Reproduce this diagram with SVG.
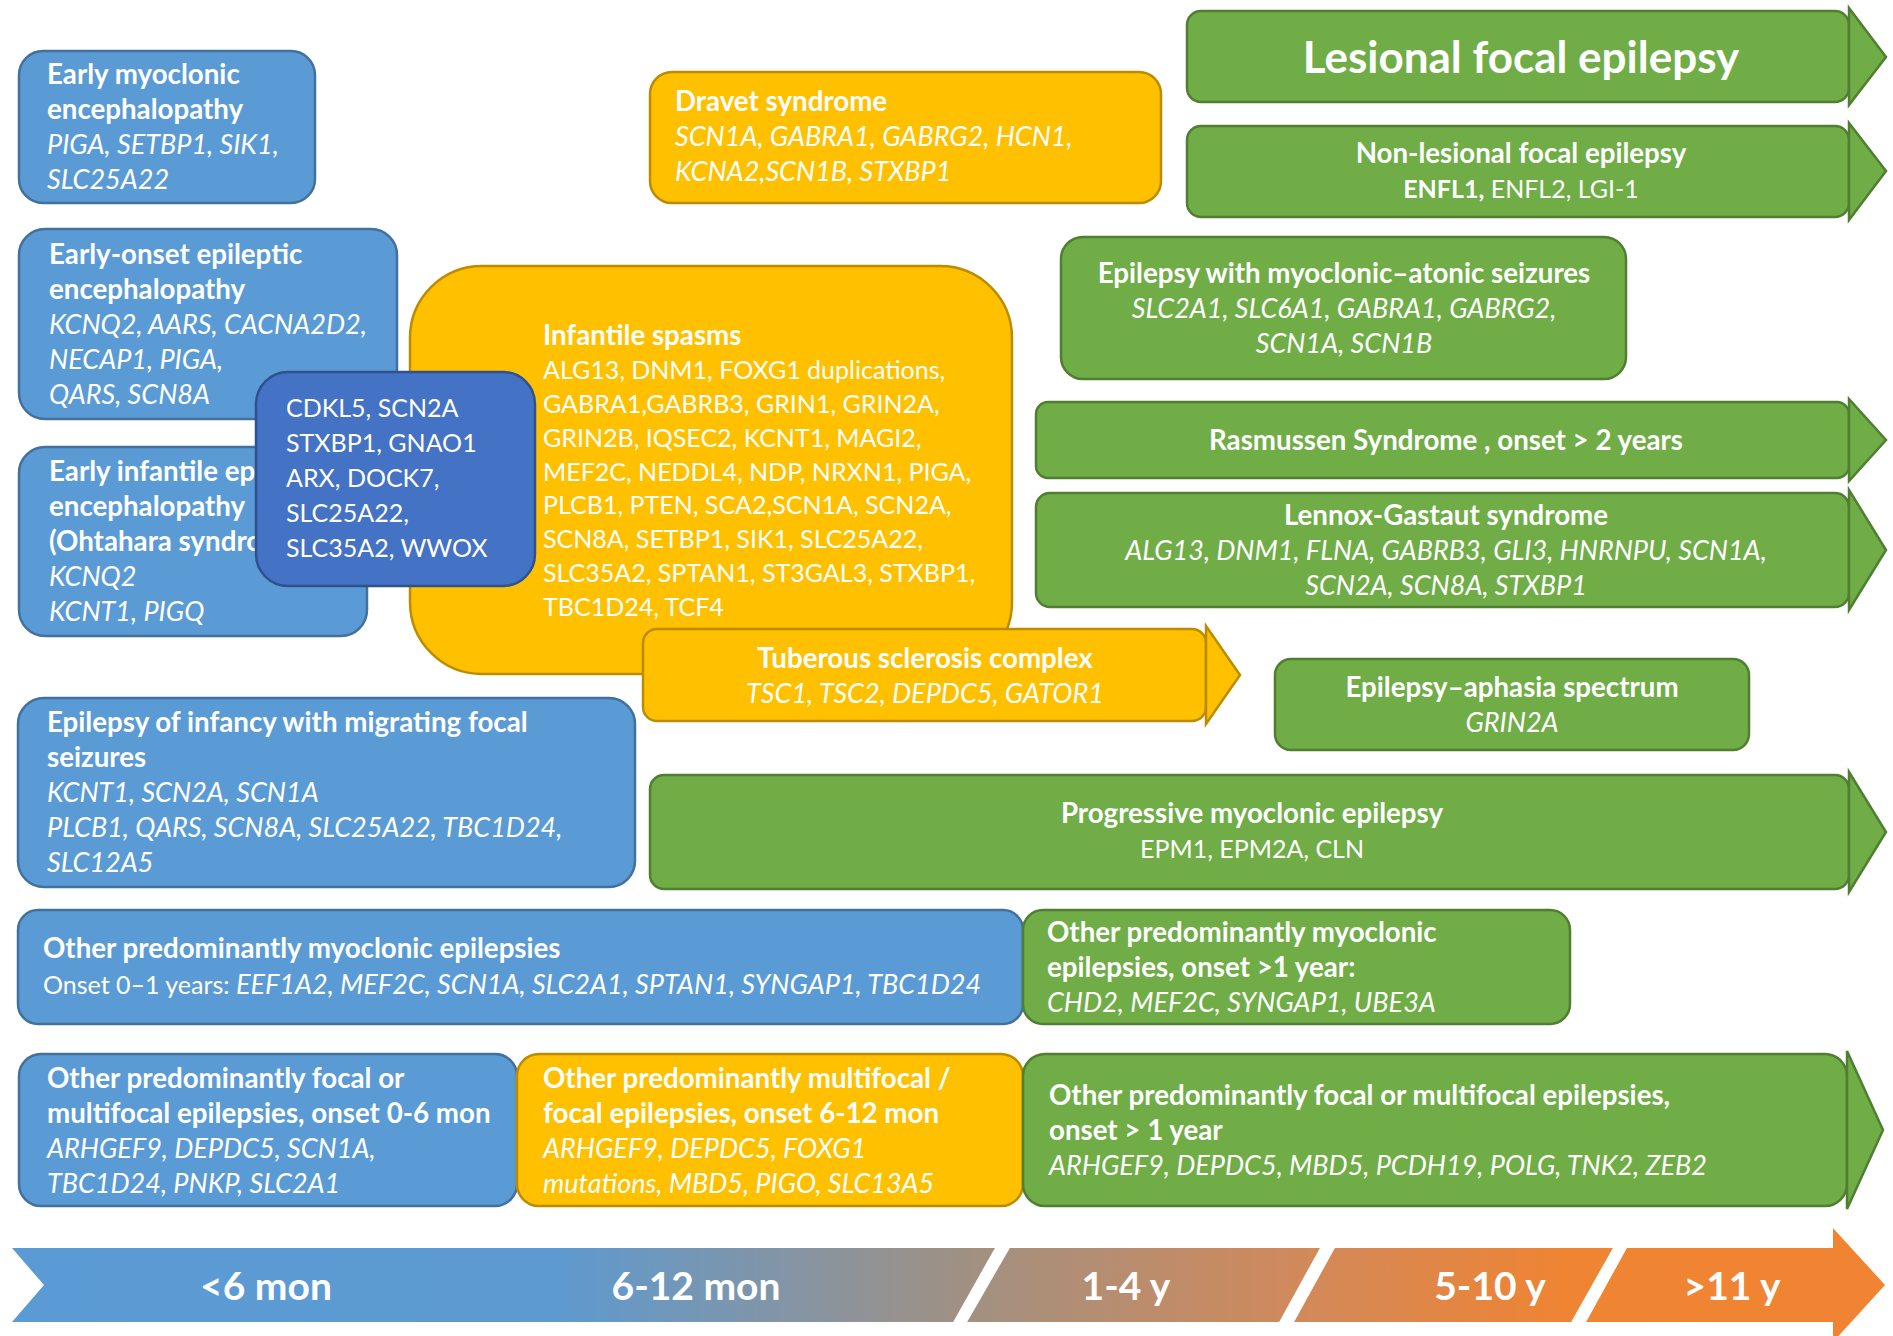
<svg xmlns="http://www.w3.org/2000/svg" width="1893" height="1336" viewBox="0 0 1893 1336">
<defs>
<style>
.blue{fill:#5B9BD5;stroke:#41719C;stroke-width:2.5}
.yel{fill:#FFC000;stroke:#BC8C00;stroke-width:2.5}
.grn{fill:#70AD47;stroke:#507E32;stroke-width:2.5}
.dk{fill:#4472C4;stroke:#2F528F;stroke-width:2.5}
text{font-family:Lato,"Open Sans","Liberation Sans",sans-serif;fill:#fff;font-size:25px}
.b{font-weight:700;font-size:27.7px}
.i{font-style:italic;font-size:27px}
.c{text-anchor:middle}
.big{font-weight:700;font-size:44px}
.tl{font-weight:700;font-size:39px;text-anchor:middle}
</style>
<linearGradient id="tlg" gradientUnits="userSpaceOnUse" x1="10" y1="0" x2="1885" y2="0">
<stop offset="0" stop-color="#5B9BD5"/>
<stop offset="0.29" stop-color="#5D9AD1"/>
<stop offset="0.52" stop-color="#A4907F"/>
<stop offset="0.69" stop-color="#D2895A"/>
<stop offset="0.83" stop-color="#EF8433"/>
<stop offset="1" stop-color="#F08432"/>
</linearGradient>
</defs>

<g id="early-myoclonic">
<rect class="blue" x="19" y="51" width="296" height="152" rx="24"/>
<text x="47" y="84" class="b">Early myoclonic</text>
<text x="47" y="119" class="b">encephalopathy</text>
<text x="47" y="154" class="i">PIGA, SETBP1, SIK1,</text>
<text x="47" y="189" class="i">SLC25A22</text>
</g>

<g id="early-onset">
<rect class="blue" x="19" y="229" width="378" height="190" rx="26"/>
<text x="49" y="264" class="b">Early-onset epileptic</text>
<text x="49" y="299" class="b">encephalopathy</text>
<text x="49" y="334" class="i">KCNQ2, AARS, CACNA2D2,</text>
<text x="49" y="369" class="i">NECAP1, PIGA,</text>
<text x="49" y="404" class="i">QARS, SCN8A</text>
</g>

<g id="early-infantile">
<rect class="blue" x="19" y="447" width="348" height="189" rx="26"/>
<text x="49" y="481" class="b">Early infantile ep</text>
<text x="49" y="516" class="b">encephalopathy</text>
<text x="49" y="551" class="b">(Ohtahara syndro</text>
<text x="49" y="586" class="i">KCNQ2</text>
<text x="49" y="621" class="i">KCNT1, PIGQ</text>
</g>

<g id="infantile-spasms">
<rect class="yel" x="410" y="266" width="602" height="408" rx="72"/>
<text x="543" y="345" class="b">Infantile spasms</text>
<text x="543" y="379">ALG13, DNM1, FOXG1 duplications,</text>
<text x="543" y="413">GABRA1,GABRB3, GRIN1, GRIN2A,</text>
<text x="543" y="447">GRIN2B, IQSEC2, KCNT1, MAGI2,</text>
<text x="543" y="481">MEF2C, NEDDL4, NDP, NRXN1, PIGA,</text>
<text x="543" y="514">PLCB1, PTEN, SCA2,SCN1A, SCN2A,</text>
<text x="543" y="548">SCN8A, SETBP1, SIK1, SLC25A22,</text>
<text x="543" y="582">SLC35A2, SPTAN1, ST3GAL3, STXBP1,</text>
<text x="543" y="616">TBC1D24, TCF4</text>
</g>

<g id="shared-genes">
<rect class="dk" x="256" y="372" width="279" height="214" rx="32"/>
<text x="286" y="417">CDKL5, SCN2A</text>
<text x="286" y="452">STXBP1, GNAO1</text>
<text x="286" y="487">ARX, DOCK7,</text>
<text x="286" y="522">SLC25A22,</text>
<text x="286" y="557">SLC35A2, WWOX</text>
</g>

<g id="dravet">
<rect class="yel" x="650" y="72" width="511" height="131" rx="22"/>
<text x="675" y="111" class="b">Dravet syndrome</text>
<text x="675" y="146" class="i">SCN1A, GABRA1, GABRG2, HCN1,</text>
<text x="675" y="181" class="i">KCNA2,SCN1B, STXBP1</text>
</g>

<g id="lesional">
<rect class="grn" x="1187" y="11" width="662" height="91" rx="14"/>
<polygon class="grn" points="1849,8 1886,57 1849,105"/>
<text x="1521" y="73" class="big c">Lesional focal epilepsy</text>
</g>

<g id="non-lesional">
<rect class="grn" x="1187" y="126" width="662" height="91" rx="14"/>
<polygon class="grn" points="1849,123 1886,171 1849,220"/>
<text x="1521" y="163" class="b c">Non-lesional focal epilepsy</text>
<text x="1521" y="198" class="c"><tspan font-weight="700">ENFL1,</tspan> ENFL2, LGI-1</text>
</g>

<g id="myoclonic-atonic">
<rect class="grn" x="1061" y="237" width="565" height="142" rx="22"/>
<text x="1344" y="283" class="b c">Epilepsy with myoclonic–atonic seizures</text>
<text x="1344" y="318" class="i c">SLC2A1, SLC6A1, GABRA1, GABRG2,</text>
<text x="1344" y="353" class="i c">SCN1A, SCN1B</text>
</g>

<g id="rasmussen">
<rect class="grn" x="1036" y="402" width="813" height="76" rx="12"/>
<polygon class="grn" points="1849,399 1886,440 1849,481"/>
<text x="1446" y="450" class="b c">Rasmussen Syndrome , onset &gt; 2 years</text>
</g>

<g id="lennox">
<rect class="grn" x="1036" y="493" width="813" height="114" rx="14"/>
<polygon class="grn" points="1849,490 1886,550 1849,610"/>
<text x="1446" y="525" class="b c">Lennox-Gastaut syndrome</text>
<text x="1446" y="560" class="i c">ALG13, DNM1, FLNA, GABRB3, GLI3, HNRNPU, SCN1A,</text>
<text x="1446" y="595" class="i c">SCN2A, SCN8A, STXBP1</text>
</g>

<g id="tuberous">
<rect class="yel" x="643" y="629" width="563" height="92" rx="14"/>
<polygon class="yel" points="1206,626 1240,675 1206,724"/>
<text x="925" y="668" class="b c">Tuberous sclerosis complex</text>
<text x="925" y="703" class="i c">TSC1, TSC2, DEPDC5, GATOR1</text>
</g>

<g id="aphasia">
<rect class="grn" x="1275" y="659" width="474" height="91" rx="16"/>
<text x="1512" y="697" class="b c">Epilepsy–aphasia spectrum</text>
<text x="1512" y="732" class="i c">GRIN2A</text>
</g>

<g id="migrating">
<rect class="blue" x="18" y="698" width="617" height="189" rx="26"/>
<text x="47" y="732" class="b">Epilepsy of infancy with migrating focal</text>
<text x="47" y="767" class="b">seizures</text>
<text x="47" y="802" class="i">KCNT1, SCN2A, SCN1A</text>
<text x="47" y="837" class="i">PLCB1, QARS, SCN8A, SLC25A22, TBC1D24,</text>
<text x="47" y="872" class="i">SLC12A5</text>
</g>

<g id="progressive">
<rect class="grn" x="650" y="775" width="1199" height="114" rx="14"/>
<polygon class="grn" points="1849,772 1886,832 1849,892"/>
<text x="1252" y="823" class="b c">Progressive myoclonic epilepsy</text>
<text x="1252" y="858" class="c">EPM1, EPM2A, CLN</text>
</g>

<g id="myoclonic-0-1">
<rect class="blue" x="18" y="910" width="1005" height="114" rx="20"/>
<text x="43" y="958" class="b">Other predominantly myoclonic epilepsies</text>
<text x="43" y="994" font-size="26">Onset 0–1 years: <tspan font-style="italic" font-size="27">EEF1A2, MEF2C, SCN1A, SLC2A1, SPTAN1, SYNGAP1, TBC1D24</tspan></text>
</g>

<g id="myoclonic-1">
<rect class="grn" x="1023" y="910" width="547" height="114" rx="20"/>
<text x="1047" y="942" class="b">Other predominantly myoclonic</text>
<text x="1047" y="977" class="b">epilepsies, onset &gt;1 year:</text>
<text x="1047" y="1012" class="i">CHD2, MEF2C, SYNGAP1, UBE3A</text>
</g>

<g id="focal-0-6">
<rect class="blue" x="19" y="1054" width="498" height="152" rx="22"/>
<text x="47" y="1088" class="b">Other predominantly focal or</text>
<text x="47" y="1123" class="b">multifocal epilepsies, onset 0-6 mon</text>
<text x="47" y="1158" class="i">ARHGEF9, DEPDC5, SCN1A,</text>
<text x="47" y="1193" class="i">TBC1D24, PNKP, SLC2A1</text>
</g>

<g id="focal-6-12">
<rect class="yel" x="517" y="1054" width="506" height="152" rx="22"/>
<text x="543" y="1088" class="b">Other predominantly multifocal /</text>
<text x="543" y="1123" class="b">focal epilepsies, onset 6-12 mon</text>
<text x="543" y="1158" class="i">ARHGEF9, DEPDC5, FOXG1</text>
<text x="543" y="1193" class="i">mutations, MBD5, PIGO, SLC13A5</text>
</g>

<g id="focal-1">
<rect class="grn" x="1023" y="1054" width="824" height="152" rx="22"/>
<polygon class="grn" points="1847,1051 1883,1130 1847,1209"/>
<text x="1049" y="1105" class="b">Other predominantly focal or multifocal epilepsies,</text>
<text x="1049" y="1140" class="b">onset &gt; 1 year</text>
<text x="1049" y="1175" class="i">ARHGEF9, DEPDC5, MBD5, PCDH19, POLG, TNK2, ZEB2</text>
</g>

<g id="timeline">
<path d="M12,1248 L1833,1248 L1833,1228 L1885,1285 L1833,1342 L1833,1322 L12,1322 L44,1285 Z" fill="url(#tlg)"/>
<polygon points="996,1246 1011,1246 966,1324 952,1324" fill="#fff"/>
<polygon points="1321,1246 1336,1246 1293,1324 1278,1324" fill="#fff"/>
<polygon points="1614,1246 1628,1246 1585,1324 1570,1324" fill="#fff"/>
<text x="266" y="1300" class="tl">&lt;6 mon</text>
<text x="696" y="1300" class="tl">6-12 mon</text>
<text x="1126" y="1300" class="tl">1-4 y</text>
<text x="1490" y="1300" class="tl">5-10 y</text>
<text x="1732" y="1300" class="tl">&gt;11 y</text>
</g>
</svg>
